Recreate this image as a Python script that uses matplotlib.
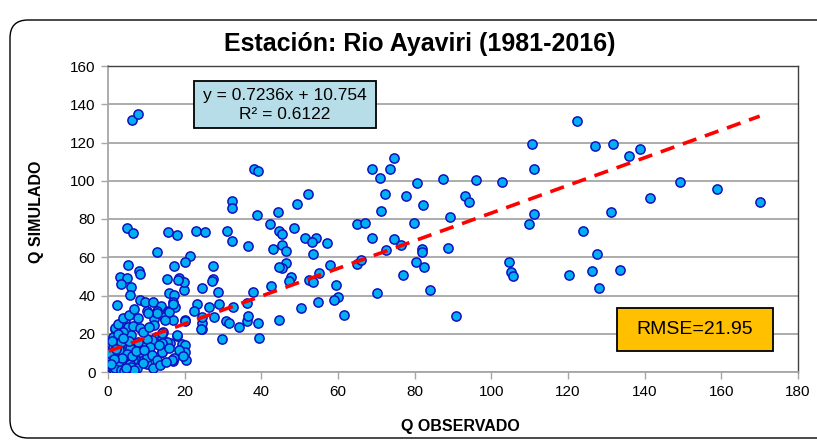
import matplotlib.pyplot as plt
from matplotlib import font_manager
from matplotlib.patches import FancyBboxPatch, Rectangle
import numpy as np

# Observed vs simulated monthly discharge, Rio Ayaviri
q_obs = [
    6.2, 7.7, 38.1, 39.2, 32.4, 32.4, 38.8, 44.4, 49.2, 52.2,
    68.9, 70.9, 73.5, 74.5, 72.3, 77.7, 80.6, 82.2, 87.3, 93.0,
    94.3, 96.1, 102.8, 110.5, 71.1, 111.2, 122.4, 127.0, 131.8, 135.8,
    138.8, 149.3, 158.9, 170.0, 141.5, 111.1, 131.1, 109.8, 123.9, 127.6,
    120.3, 126.3, 133.6, 128.0, 42.3, 44.7, 45.4, 48.5, 43.0, 45.3,
    46.4, 51.4, 54.2, 53.2, 57.2, 53.4, 65.0, 67.0, 68.8, 74.7,
    76.5, 72.5, 79.9, 89.2, 88.8, 81.8, 82.0, 46.5, 45.5, 47.7,
    47.3, 52.5, 53.4, 55.1, 57.9, 65.0, 66.0, 80.3, 82.4, 77.0,
    59.5, 60.0, 59.0, 84.0, 70.3, 54.7, 50.4, 61.6, 44.6, 90.9,
    104.5, 105.0, 105.7, 36.6, 44.7, 4.9, 6.6, 15.7, 17.9, 23.0,
    25.3, 31.1, 32.3, 12.9, 21.4, 20.1, 5.3, 8.2, 8.3, 17.2,
    27.3, 27.3, 18.5, 15.5, 3.1, 4.9, 3.3, 5.9, 5.7, 19.7,
    24.6, 28.8, 15.9, 17.2, 16.9, 2.4, 8.3, 9.7, 11.8, 13.8,
    10.1, 12.9, 15.7, 17.5, 14.6, 12.0, 12.7, 17.0, 23.3, 22.5,
    26.3, 29.0, 30.8, 20.0, 24.4, 24.5, 31.5, 34.3, 36.3, 36.6,
    36.3, 37.7, 39.2, 39.4, 29.7, 32.5, 24.4, 27.7, 42.6, 27.0,
    19.9, 18.3, 1.7, 4.4, 5.2, 6.6, 6.1, 7.9, 12.1, 14.4,
    12.5, 11.4, 8.8, 10.1, 6.1, 4.0, 16.2, 14.2, 18.1, 19.2,
    20.2, 20.2, 16.9, 20.3, 14.1, 10.3, 7.8, 8.2, 8.8, 7.0,
    4.7, 4.2, 1.4, 0.5, 0.5, 0.3, 2.7, 5.3, 17.9, 15.5,
    14.0, 17.2, 14.0, 10.5, 14.9, 1.8, 4.0, 3.1, 1.4, 5.7,
    7.9, 14.0, 11.0, 8.3, 10.1, 6.5, 4.0, 1.8, 1.0, 4.9,
    7.5, 9.2, 0.2, 2.3, 8.3, 16.6, 20.1, 24.3, 16.0, 17.0,
    1.2, 2.0, 2.5, 3.0, 3.5, 1.5, 2.2, 3.8, 4.5, 5.8,
    6.0, 3.2, 2.8, 5.0, 6.3, 2.0, 3.5, 5.5, 7.2, 9.5,
    11.5, 12.8, 1.2, 2.6, 1.0, 0.8, 1.8, 3.3, 4.2, 6.8,
    2.5, 3.8, 5.5, 6.9, 9.0, 10.8, 13.2, 16.0, 18.5, 19.5,
    11.8, 13.5, 15.0, 2.9, 3.6, 4.6, 1.6, 2.1, 0.9, 3.9,
]
q_sim = [
    131.8, 134.9, 106.0, 105.0, 89.2, 85.8, 82.1, 83.8, 87.8, 92.9,
    106.0, 101.3, 106.0, 111.9, 93.1, 92.0, 98.8, 87.3, 100.8, 92.0,
    89.0, 100.4, 99.2, 119.2, 84.3, 106.3, 131.1, 118.0, 119.4, 112.8,
    116.6, 99.2, 95.9, 89.0, 91.2, 82.6, 83.4, 77.4, 73.6, 61.5,
    50.6, 52.8, 53.2, 44.1, 77.4, 73.7, 72.0, 75.1, 64.3, 66.2,
    63.4, 70.2, 69.9, 68.1, 67.4, 61.7, 77.5, 77.7, 70.2, 69.7,
    66.4, 63.8, 77.7, 81.0, 64.7, 64.2, 62.7, 57.2, 54.5, 49.8,
    47.4, 48.1, 47.2, 51.9, 55.9, 56.5, 58.6, 57.4, 54.7, 50.9,
    45.6, 39.0, 37.6, 42.9, 41.5, 36.4, 33.5, 30.0, 27.2, 29.3,
    57.7, 52.4, 50.4, 66.0, 55.0, 75.5, 72.5, 73.3, 71.7, 73.6,
    73.4, 73.7, 68.7, 62.5, 60.7, 57.7, 55.9, 52.8, 51.3, 55.4,
    55.5, 48.8, 49.4, 48.6, 49.8, 49.0, 46.0, 44.5, 40.5, 42.9,
    43.9, 41.7, 41.1, 40.5, 36.8, 35.2, 37.6, 36.8, 36.7, 34.6,
    31.9, 31.9, 32.1, 34.0, 29.0, 27.6, 30.7, 27.2, 35.5, 31.9,
    34.2, 35.6, 26.8, 27.4, 22.4, 25.5, 25.5, 23.3, 26.8, 29.4,
    36.2, 41.7, 25.5, 17.8, 17.1, 34.1, 28.9, 28.6, 45.0, 47.7,
    47.2, 48.1, 22.3, 26.0, 23.7, 24.0, 19.3, 28.1, 24.6, 21.1,
    18.5, 16.7, 13.8, 17.0, 12.4, 14.1, 15.3, 17.9, 18.8, 14.9,
    14.0, 10.6, 5.9, 6.1, 10.3, 4.0, 4.5, 8.0, 8.9, 6.6,
    7.7, 10.6, 12.4, 9.8, 6.3, 3.0, 1.9, 1.0, 19.3, 15.9,
    20.2, 7.1, 10.6, 30.7, 27.2, 22.8, 21.1, 17.6, 13.2, 12.4,
    15.9, 15.0, 13.2, 10.6, 8.0, 6.3, 6.3, 8.0, 1.9, 1.4,
    1.9, 4.5, 9.8, 15.0, 22.8, 6.3, 26.8, 22.3, 31.2, 35.6,
    3.5, 5.0, 3.0, 1.5, 4.0, 1.0, 7.0, 2.5, 3.5, 4.0,
    2.5, 9.0, 11.5, 9.5, 8.5, 13.0, 15.5, 16.0, 11.0, 11.5,
    9.0, 6.5, 18.5, 20.0, 16.0, 5.5, 2.0, 0.8, 0.5, 0.8,
    25.0, 28.0, 30.0, 33.0, 21.0, 23.5, 14.0, 12.5, 11.5, 8.5,
    2.0, 3.5, 5.0, 5.5, 7.5, 2.2, 6.8, 12.0, 4.2, 18.0,
]

slope, intercept = 0.7236, 10.754
r2 = 0.6122
rmse = 21.95

names = {f.name for f in font_manager.fontManager.ttflist}
narrow = 'Liberation Sans Narrow' if 'Liberation Sans Narrow' in names else 'Liberation Sans'
plt.rcParams['font.family'] = 'Liberation Sans'

fig = plt.figure(figsize=(8.17, 4.42), dpi=100)
ax = fig.add_axes([108 / 817, 1 - 372 / 442, 690 / 817, 306 / 442])

# rounded outer chart frame (pixel coordinates)
frame = FancyBboxPatch((10, 4), 840, 418, boxstyle='round,pad=0,rounding_size=18',
                       transform=None, fill=False, edgecolor='black', lw=1.0)
fig.patches.append(frame)

ax.scatter(q_obs, q_sim, s=44, color='#00B0F0', edgecolor='#1010C0',
           linewidth=1.1, zorder=3)

xs = np.array([min(q_obs), max(q_obs)])
ax.plot(xs, slope * xs + intercept, color='#FF0000', lw=2.6,
        dashes=(4, 2.5), zorder=4)

ax.set_xlim(0, 180)
ax.set_ylim(0, 160)
ax.set_xticks(range(0, 181, 20))
ax.set_yticks(range(0, 161, 20))
ax.yaxis.grid(True, color='#A6A6A6', lw=1.3)
ax.set_axisbelow(True)
for side in ('left', 'bottom'):
    ax.spines[side].set_color('#A6A6A6')
    ax.spines[side].set_linewidth(1.3)
for side in ('top', 'right'):
    ax.spines[side].set_color('#404040')
    ax.spines[side].set_linewidth(1.0)
ax.tick_params(axis='both', direction='out', length=5, width=1.0,
               color='#A6A6A6', labelsize=11, pad=4)
for lab in ax.get_xticklabels() + ax.get_yticklabels():
    lab.set_fontfamily(narrow)

fig.text(420 / 817, 1 - 44 / 442, 'Estación: Rio Ayaviri (1981-2016)',
         ha='center', va='center', fontsize=18, fontweight='bold', family=narrow)
fig.text(37 / 817, 1 - 212 / 442, 'Q SIMULADO', rotation=90, ha='center',
         va='center', fontsize=11.5, fontweight='bold')
fig.text(460 / 817, 1 - 426 / 442, 'Q OBSERVADO', ha='center', va='center',
         fontsize=11.5, fontweight='bold')

# trendline equation box
ax.add_patch(Rectangle((86 / 690, 0.797), 182 / 690, 0.154, transform=ax.transAxes,
                       facecolor='#B7DEE8', edgecolor='black', lw=1.3, zorder=5))
ax.text(177 / 690, 0.902, f'y = {slope}x + {intercept}', transform=ax.transAxes,
        ha='center', va='center', fontsize=12.5, zorder=6)
ax.text(177 / 690, 0.842, f'R² = {r2}', transform=ax.transAxes,
        ha='center', va='center', fontsize=12.5, zorder=6)

# RMSE box
ax.add_patch(Rectangle((509 / 690, 21 / 306), 156 / 690, 43 / 306, transform=ax.transAxes,
                       facecolor='#FFC000', edgecolor='black', lw=1.3, zorder=5))
ax.text(587 / 690, 42.5 / 306, f'RMSE={rmse}', transform=ax.transAxes,
        ha='center', va='center', fontsize=14, zorder=6)

fig.savefig('out.png', dpi=100)
